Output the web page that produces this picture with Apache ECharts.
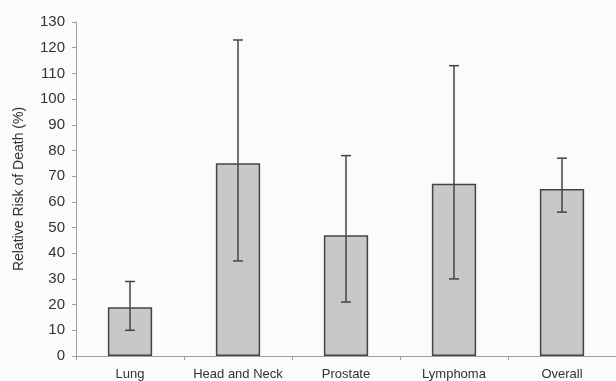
<!DOCTYPE html>
<html><head><meta charset="utf-8">
<script src="https://cdn.jsdelivr.net/npm/echarts@6/dist/echarts.min.js"></script>
<style>html,body{margin:0;padding:0;background:#fbfbfb}#c{width:616px;height:381px}</style>
</head><body><div id="c"></div>
<script>
const categories = ["Lung", "Head and Neck", "Prostate", "Lymphoma", "Overall"];
const values = [19, 75, 47, 67, 65];
const lower = [10, 37, 21, 30, 56];
const upper = [29, 123, 78, 113, 77];
const yTicks = [0,10,20,30,40,50,60,70,80,90,100,110,120,130];

const chart = echarts.init(document.getElementById('c'), null, {renderer:'canvas'});
const errData = categories.map((c,i)=>[i, lower[i], upper[i]]);
chart.setOption({
  backgroundColor: '#fbfbfb',
  animation: false,
  grid: {left: 76, right: 0, top: 22, bottom: 25, containLabel: false, outerBoundsMode: 'none'},
  xAxis: {
    type: 'category', data: categories,
    axisLine: {lineStyle: {color: '#a0a0a0', width: 1}},
    axisTick: {show: true, length: 4, lineStyle: {color: '#a0a0a0'}},
    axisLabel: {color: '#333', fontFamily: 'Liberation Sans, Arial', fontSize: 13, margin: 12, interval: 0, hideOverlap: false}
  },
  yAxis: {
    type: 'value', min: 0, max: 130, interval: 10,
    name: 'Relative Risk of Death (%)', nameLocation: 'middle', nameGap: 50,
    nameTextStyle: {color: '#333', fontFamily: 'Liberation Sans, Arial', fontSize: 14},
    axisLine: {show: true, lineStyle: {color: '#a0a0a0', width: 1}},
    axisTick: {show: true, length: 4, lineStyle: {color: '#a0a0a0'}},
    axisLabel: {color: '#333', fontFamily: 'Liberation Sans, Arial', fontSize: 15, margin: 11,
      formatter: v => yTicks.includes(v) ? String(v) : ''},
    splitLine: {show: false}
  },
  series: [
    {type: 'bar', data: values, barWidth: '41%',
     itemStyle: {color: '#c8c8c8', borderColor: '#444', borderWidth: 1.5}},
    {type: 'custom', data: errData, z: 10,
     renderItem: function(params, api){
       const x = api.coord([api.value(0), api.value(1)])[0];
       const lo = api.coord([api.value(0), api.value(1)])[1];
       const hi = api.coord([api.value(0), api.value(2)])[1];
       const hw = 5;
       const st = {stroke: '#444', lineWidth: 1.5};
       return {type: 'group', children: [
         {type: 'line', shape: {x1: x, y1: lo, x2: x, y2: hi}, style: st},
         {type: 'line', shape: {x1: x-hw, y1: hi, x2: x+hw, y2: hi}, style: st},
         {type: 'line', shape: {x1: x-hw, y1: lo, x2: x+hw, y2: lo}, style: st}
       ]};
     }}
  ]
});
</script></body></html>
